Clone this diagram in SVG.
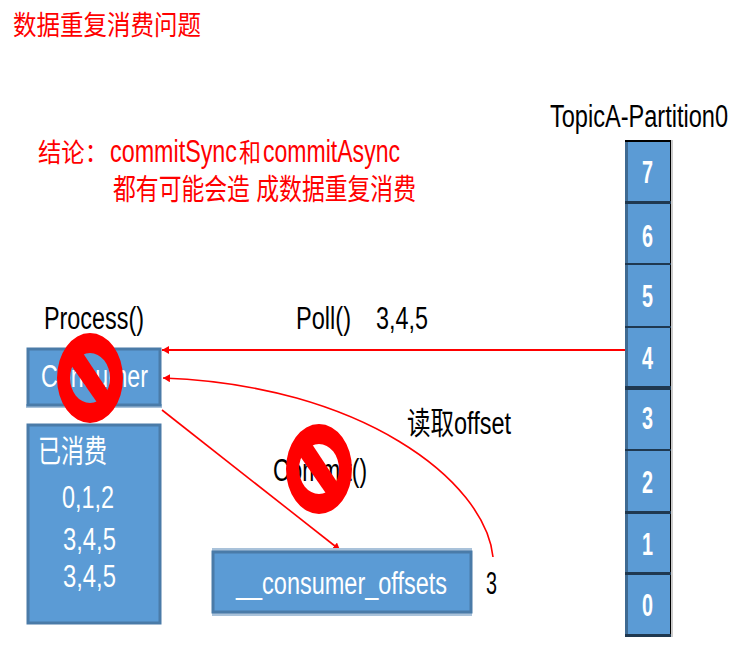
<svg xmlns="http://www.w3.org/2000/svg" width="741" height="652" viewBox="0 0 741 652">
<style>
.t{font-family:"Liberation Sans","Noto Sans CJK SC",sans-serif}
.k{fill:#000;font-size:31px}
.w{fill:#fff;font-size:31px}
.r{fill:#f00}
.box{fill:#5b9bd5;stroke:#4a7ba8;stroke-width:3}
.halo{fill:#a9c2da}
.cell{fill:#5b9bd5}
.c{fill:none;stroke:#f00;stroke-width:1.6}
.no{fill:#f00;fill-rule:evenodd}
.d{fill:#fff;font-size:31px;font-weight:bold}
</style>
<defs>
<marker id="a" markerWidth="9" markerHeight="9" refX="7" refY="4" orient="auto" markerUnits="userSpaceOnUse"><path d="M7,4 L0,0 L0,8 Z" fill="#f00"/></marker>
<g id="nosign">
<path class="no" d="M-33,0A33,45 0 1 0 33,0A33,45 0 1 0 -33,0ZM-20,0A20,25 0 1 0 20,0A20,25 0 1 0 -20,0Z"/>
<path d="M-13,-34L22,19L13,33L-24,-20Z" fill="#f00"/>
</g>
</defs>
<rect width="741" height="652" fill="#fff"/>
<g id="title"><text class="t r" x="13" y="35" font-size="27" textLength="188" lengthAdjust="spacingAndGlyphs">数据重复消费问题</text></g>
<g id="conclusion">
<text class="t r" y="162" font-size="26"><tspan x="38" textLength="70" lengthAdjust="spacingAndGlyphs">结论：</tspan><tspan x="110" font-size="31" textLength="127" lengthAdjust="spacingAndGlyphs">commitSync</tspan><tspan x="239" textLength="22" lengthAdjust="spacingAndGlyphs">和</tspan><tspan x="263" font-size="31" textLength="137" lengthAdjust="spacingAndGlyphs">commitAsync</tspan></text>
<text class="t r" x="113" y="200" font-size="29" textLength="303" lengthAdjust="spacingAndGlyphs">都有可能会造 成数据重复消费</text>
</g>
<g id="connectors">
<line class="c" style="stroke-width:2" x1="626" y1="350" x2="162" y2="350" marker-end="url(#a)"/>
<path class="c" d="M493,557 C485,480 360,385 163,378" marker-end="url(#a)"/>
<line class="c" x1="162" y1="410" x2="340" y2="550" marker-end="url(#a)"/>
</g>
<g id="consumer">
<rect class="halo" x="26" y="404" width="136" height="4"/>
<rect class="box" x="28" y="349" width="132" height="56"/>
<text class="t w" x="41" y="387" textLength="107" lengthAdjust="spacingAndGlyphs">Consumer</text>
</g>
<g id="consumed">
<rect class="box" x="28" y="425" width="132" height="198"/>
<text class="t w" x="38" y="462" font-size="29" textLength="69" lengthAdjust="spacingAndGlyphs">已消费</text>
<text class="t w" x="62" y="508" textLength="52" lengthAdjust="spacingAndGlyphs">0,1,2</text>
<text class="t w" x="63" y="550" textLength="53" lengthAdjust="spacingAndGlyphs">3,4,5</text>
<text class="t w" x="63" y="587" textLength="53" lengthAdjust="spacingAndGlyphs">3,4,5</text>
</g>
<g id="offsets">
<rect class="halo" x="212" y="548" width="260" height="68"/>
<rect class="box" x="213" y="552" width="258" height="60"/>
<text class="t w" x="236" y="594" textLength="211" lengthAdjust="spacingAndGlyphs">__consumer_offsets</text>
</g>
<g id="partition">
<rect x="671" y="140" width="2" height="497" fill="#ccc"/>
<rect class="cell" x="625" y="140" width="46" height="497"/>
<rect x="625" y="140" width="3" height="497" fill="#3f6a92"/>
<rect x="670" y="140" width="1" height="497" fill="#000"/>
<path fill="#000" d="M625,140H671V142H625Z"/>
<path fill="#1f3850" d="M625,201H671V204H625ZM625,263H671V265H625ZM625,326H671V328H625ZM625,386H671V390H625ZM625,449H671V451H625ZM625,511H671V514H625ZM625,572H671V575H625ZM625,634H671V637H625Z"/>
<g class="t">
<text class="d" x="642" y="183" textLength="11" lengthAdjust="spacingAndGlyphs">7</text>
<text class="d" x="642" y="247" textLength="11" lengthAdjust="spacingAndGlyphs">6</text>
<text class="d" x="642" y="307" textLength="11" lengthAdjust="spacingAndGlyphs">5</text>
<text class="d" x="642" y="369" textLength="11" lengthAdjust="spacingAndGlyphs">4</text>
<text class="d" x="642" y="429" textLength="11" lengthAdjust="spacingAndGlyphs">3</text>
<text class="d" x="642" y="493" textLength="11" lengthAdjust="spacingAndGlyphs">2</text>
<text class="d" x="642" y="555" textLength="11" lengthAdjust="spacingAndGlyphs">1</text>
<text class="d" x="642" y="616" textLength="11" lengthAdjust="spacingAndGlyphs">0</text>
</g>
</g>
<g id="labels">
<text class="t k" x="550" y="127" textLength="178" lengthAdjust="spacingAndGlyphs">TopicA-Partition0</text>
<text class="t k" x="44" y="329" textLength="100" lengthAdjust="spacingAndGlyphs">Process()</text>
<text class="t k" x="296" y="329" textLength="55" lengthAdjust="spacingAndGlyphs">Poll()</text>
<text class="t k" x="376" y="329" textLength="52" lengthAdjust="spacingAndGlyphs">3,4,5</text>
<text class="t k" x="407" y="434" textLength="104" lengthAdjust="spacingAndGlyphs">读取offset</text>
<text class="t k" x="273" y="481" textLength="94" lengthAdjust="spacingAndGlyphs">Commit()</text>
<text class="t k" x="486" y="594" textLength="11" lengthAdjust="spacingAndGlyphs">3</text>
</g>
<g id="no-sign-consumer"><use href="#nosign" x="90" y="378"/></g>
<g id="no-sign-commit"><use href="#nosign" x="319" y="469"/></g>
</svg>
